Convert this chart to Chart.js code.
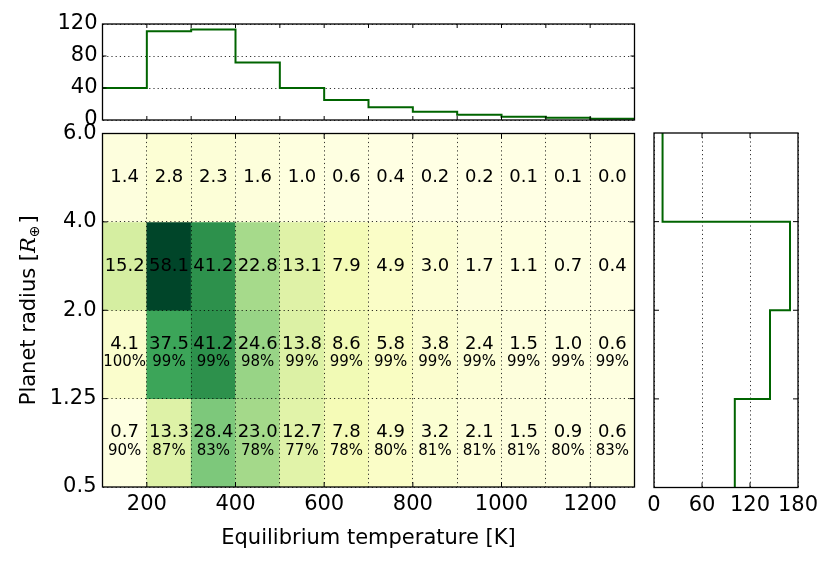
<!DOCTYPE html>
<html><head><meta charset="utf-8">
<script src="https://cdn.jsdelivr.net/npm/chart.js@4"></script>
<style>
html,body{margin:0;padding:0;background:#fff;}
#wrap{position:relative;width:831px;height:562px;background:#fff;}
canvas{position:absolute;left:0;top:0;}
</style></head><body>
<div id="wrap">
<canvas id="cMain" width="831" height="562" style="width:831px;height:562px"></canvas>
<canvas id="cTop" width="831" height="562" style="width:831px;height:562px"></canvas>
<canvas id="cRight" width="831" height="562" style="width:831px;height:562px"></canvas>
</div>
<script>
// ---- data ----
const tempEdges = [100,200,300,400,500,600,700,800,900,1000,1100,1200,1300];
const radiusTicks = ['0.5','1.25','2.0','4.0','6.0'];
// occurrence per cell, rows from bottom (0.5-1.25) to top (4.0-6.0)
const occR050_125 = [0.7,13.3,28.4,23.0,12.7,7.8,4.9,3.2,2.1,1.5,0.9,0.6];
const occR125_200 = [4.1,37.5,41.2,24.6,13.8,8.6,5.8,3.8,2.4,1.5,1.0,0.6];
const occR200_400 = [15.2,58.1,41.2,22.8,13.1,7.9,4.9,3.0,1.7,1.1,0.7,0.4];
const occR400_600 = [1.4,2.8,2.3,1.6,1.0,0.6,0.4,0.2,0.2,0.1,0.1,0.0];
const pctR050_125 = [90,87,83,78,77,78,80,81,81,81,80,83];
const pctR125_200 = [100,99,99,98,99,99,99,99,99,99,99,99];
const tempHist = [40,111,113,72,40,25,16,10.2,6.5,4.2,2.7,1.6];
const radiusHist = [101,145,170,10.7]; // bottom to top
const tempHistTicks = [0,40,80,120];
const radiusHistTicks = [0,60,120,180];

// ---- helpers ----
const FONT = "'DejaVu Sans', sans-serif";
const GREEN = '#006400';
const ylgn = ['#ffffe5','#f7fcb9','#d9f0a3','#addd8e','#78c679','#41ab5d','#238443','#006837','#004529'];
function hex(c){return [parseInt(c.slice(1,3),16),parseInt(c.slice(3,5),16),parseInt(c.slice(5,7),16)];}
function ylgnColor(t){
  t = Math.max(0, Math.min(1, t));
  const p = t * (ylgn.length - 1);
  const i = Math.min(Math.floor(p), ylgn.length - 2);
  const f = p - i;
  const a = hex(ylgn[i]), b = hex(ylgn[i+1]);
  const c = a.map((v,k)=>Math.round(v + (b[k]-v)*f));
  return 'rgb(' + c.join(',') + ')';
}
const rows = [occR050_125, occR125_200, occR200_400, occR400_600];
const pcts = [pctR050_125, pctR125_200, null, null];
const vmax = Math.max(...rows.flat());

const gridDotted = {color:'#000', lineWidth:0.8, drawTicks:false, z:1};
const borderDotted = {display:false, dash:[1.2,3]};
const tickFont = {family: FONT, size: 21};

const framePlugin = {
  id: 'frame',
  afterDraw(chart, args, opts) {
    const {ctx, chartArea: a, scales} = chart;
    ctx.save();
    ctx.strokeStyle = '#000';
    ctx.lineWidth = 1;
    const L = opts.len || 5;
    const line = (x1,y1,x2,y2) => {ctx.beginPath(); ctx.moveTo(x1,y1); ctx.lineTo(x2,y2); ctx.stroke();};
    (opts.xTicks || []).forEach(v => {
      const x = scales.x.getPixelForValue(v);
      line(x, a.bottom, x, a.bottom - L); line(x, a.top, x, a.top + L);
    });
    (opts.yTicks || []).forEach(v => {
      const y = scales.y.getPixelForValue(v);
      line(a.left, y, a.left + L, y); line(a.right, y, a.right - L, y);
    });
    ctx.lineWidth = 1.3;
    ctx.strokeRect(a.left, a.top, a.right - a.left, a.bottom - a.top);
    ctx.restore();
  }
};

const cellTextPlugin = {
  id: 'cellText',
  afterDraw(chart) {
    const {ctx, scales:{x, y}} = chart;
    ctx.save();
    ctx.fillStyle = '#000';
    ctx.textAlign = 'center';
    ctx.textBaseline = 'middle';
    rows.forEach((row, r) => row.forEach((v, i) => {
      const cx = x.getPixelForValue((tempEdges[i] + tempEdges[i+1]) / 2);
      const cy = y.getPixelForValue(r + 0.5);
      if (pcts[r]) {
        ctx.font = '18px ' + FONT;
        ctx.fillText(v.toFixed(1), cx, cy - 10.5);
        ctx.font = '15px ' + FONT;
        ctx.fillText(pcts[r][i] + '%', cx, cy + 8);
      } else {
        ctx.font = '18px ' + FONT;
        ctx.fillText(v.toFixed(1), cx, cy);
      }
    }));
    // axis titles
    const a = chart.chartArea;
    ctx.font = '21px ' + FONT;
    ctx.textBaseline = 'alphabetic';
    ctx.fillText('Equilibrium temperature [K]', (a.left + a.right) / 2, 543.5);
    // y title with math R_oplus
    const p1 = 'Planet radius [', p3 = ']';
    const fMain = '21px ' + FONT, fR = 'italic 21px "DejaVu Serif", serif', fSub = '14px ' + FONT;
    ctx.font = fMain; const w1 = ctx.measureText(p1).width, w3 = ctx.measureText(p3).width;
    ctx.font = fR; const w2 = ctx.measureText('R').width;
    ctx.font = fSub; const ws = ctx.measureText('\u2295').width;
    const total = w1 + w2 + ws + 2 + w3;
    ctx.translate(35, (a.top + a.bottom) / 2);
    ctx.rotate(-Math.PI / 2);
    ctx.textAlign = 'left';
    let px = -total / 2;
    ctx.font = fMain; ctx.fillText(p1, px, 0); px += w1;
    ctx.font = fR; ctx.fillText('R', px, 0); px += w2;
    ctx.font = fSub; ctx.fillText('\u2295', px, 4); px += ws + 2;
    ctx.font = fMain; ctx.fillText(p3, px, 0);
    ctx.restore();
  }
};

// ---- main heat map ----
const cellData = [], cellColors = [];
rows.forEach((row, r) => row.forEach((v, i) => {
  cellData.push({x: [tempEdges[i], tempEdges[i+1]], y: r + 0.5});
  cellColors.push(ylgnColor(v / vmax));
}));

new Chart(document.getElementById('cMain'), {
  type: 'bar',
  data: {datasets: [{data: cellData, backgroundColor: cellColors, borderWidth: 0,
    barPercentage: 1, categoryPercentage: 1}]},
  options: {
    indexAxis: 'y', responsive: false, animation: false,
    layout: {padding: {left: 0, top: 133.5, right: 196.5, bottom: 0}},
    plugins: {legend: {display: false}, tooltip: {enabled: false},
      frame: {xTicks: [200,400,600,800,1000,1200], yTicks: [1,2,3], len: 5}},
    scales: {
      x: {type: 'linear', min: 100, max: 1300,
        ticks: {stepSize: 100, autoSkip: false, maxRotation: 0, padding: 5, color: '#000', font: tickFont,
          callback: v => (v % 200 === 0 ? String(v) : '')},
        grid: gridDotted, border: borderDotted,
        afterFit: s => { s.height = 75; }},
      y: {type: 'linear', min: 0, max: 4, offset: false,
        ticks: {stepSize: 1, autoSkip: false, padding: 6, color: '#000', font: tickFont,
          callback: v => radiusTicks[v]},
        grid: Object.assign({offset: false}, gridDotted), border: borderDotted,
        afterFit: s => { s.width = 102.5; }}
    }
  },
  plugins: [framePlugin, cellTextPlugin]
});

// ---- top histogram (temperature) ----
const topPts = tempHist.map((v, i) => ({x: tempEdges[i], y: v}));
topPts.push({x: tempEdges[tempEdges.length - 1], y: tempHist[tempHist.length - 1]});
new Chart(document.getElementById('cTop'), {
  type: 'line',
  data: {datasets: [{data: topPts, stepped: true, borderColor: GREEN, borderWidth: 2,
    pointRadius: 0, fill: false}]},
  options: {
    responsive: false, animation: false,
    layout: {padding: {left: 0, top: 24, right: 196.5, bottom: 442}},
    plugins: {legend: {display: false}, tooltip: {enabled: false},
      frame: {xTicks: tempEdges.slice(1, -1), yTicks: [40, 80], len: 4}},
    scales: {
      x: {type: 'linear', min: 100, max: 1300, display: false},
      y: {type: 'linear', min: 0, max: 120,
        afterBuildTicks: s => { s.ticks = tempHistTicks.map(v => ({value: v})); },
        ticks: {padding: 5, color: '#000', font: tickFont},
        grid: Object.assign({}, gridDotted, {z: 0}), border: borderDotted,
        afterFit: s => { s.width = 102.5; }}
    }
  },
  plugins: [framePlugin]
});

// ---- right histogram (radius) ----
const rightPts = [];
for (let r = radiusHist.length - 1; r >= 0; r--) rightPts.push({x: radiusHist[r], y: r + 1});
rightPts.push({x: radiusHist[0], y: 0});
new Chart(document.getElementById('cRight'), {
  type: 'scatter',
  data: {datasets: [{data: rightPts, showLine: true, stepped: 'after', borderColor: GREEN,
    borderWidth: 2, pointRadius: 0, fill: false}]},
  options: {
    responsive: false, animation: false,
    layout: {padding: {left: 654, top: 133, right: 33, bottom: 0}},
    plugins: {legend: {display: false}, tooltip: {enabled: false},
      frame: {xTicks: [60, 120], yTicks: [1, 2, 3], len: 5}},
    scales: {
      x: {type: 'linear', min: 0, max: 180,
        afterBuildTicks: s => { s.ticks = radiusHistTicks.map(v => ({value: v})); },
        ticks: {padding: 5, autoSkip: false, maxRotation: 0, color: '#000', font: tickFont},
        grid: Object.assign({}, gridDotted, {z: 0}), border: borderDotted,
        afterFit: s => { s.height = 74.5; }},
      y: {type: 'linear', min: 0, max: 4, display: false}
    }
  },
  plugins: [framePlugin]
});
</script>
</body></html>
